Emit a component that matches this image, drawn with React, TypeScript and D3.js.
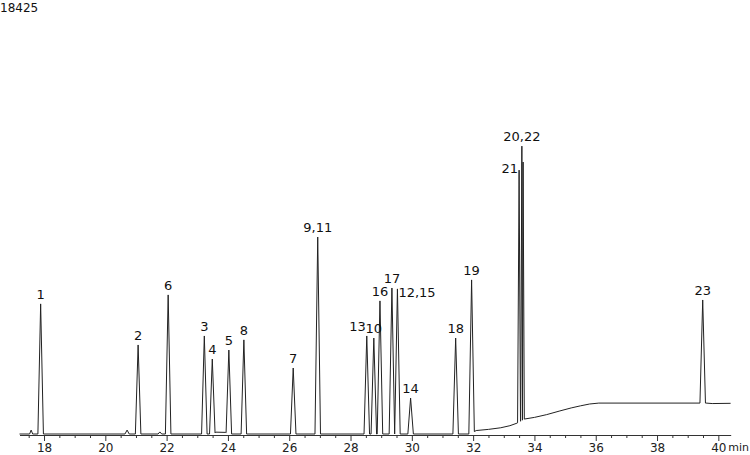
import { useRef, useEffect } from "react";
import * as d3 from "d3";

type Peak = { label: string; rt: number; top: number; w?: number };

// Peak table: retention time (min) and apex signal (counts)
const peaks: Peak[] = [
  { label: "1", rt: 17.89, top: 5640 },
  { label: "2", rt: 21.07, top: 3860 },
  { label: "6", rt: 22.05, top: 6030 },
  { label: "3", rt: 23.23, top: 4250 },
  { label: "4", rt: 23.49, top: 3250 },
  { label: "5", rt: 24.03, top: 3640 },
  { label: "8", rt: 24.52, top: 4080 },
  { label: "7", rt: 26.13, top: 2860 },
  { label: "9,11", rt: 26.93, top: 8540 },
  { label: "13", rt: 28.53, top: 4250 },
  { label: "10", rt: 28.76, top: 4160 },
  { label: "16", rt: 28.96, top: 5770 },
  { label: "17", rt: 29.35, top: 6330 },
  { label: "12,15", rt: 29.53, top: 6290 },
  { label: "14", rt: 29.96, top: 1560 },
  { label: "18", rt: 31.43, top: 4160 },
  { label: "19", rt: 31.95, top: 6680 },
  { label: "21", rt: 33.5, top: 11440, w: 0.05 },
  { label: "20,22", rt: 33.59, top: 12480, w: 0.04 },
  { label: "", rt: 33.63, top: 11790, w: 0.04 },
  { label: "23", rt: 39.49, top: 5810 },
];

// small unlabelled bumps
const bumps: Peak[] = [
  { label: "", rt: 17.58, top: 170, w: 0.05 },
  { label: "", rt: 20.71, top: 170, w: 0.07 },
  { label: "", rt: 21.78, top: 90, w: 0.06 },
];

// Baseline drift
const baseTime = [17.2, 23.55, 23.6, 23.92, 24.0, 31.9, 32.1, 32.5, 32.9, 33.2, 33.43, 33.68, 34.0, 34.4, 34.83, 35.2, 35.5, 35.8, 36.1, 39.6, 39.8, 40.4];
const baseSignal = [0, 0, 80, 70, 0, 0, 150, 200, 270, 360, 470, 650, 720, 840, 1000, 1130, 1220, 1300, 1340, 1340, 1320, 1330];

const majorTicks = [18, 20, 22, 24, 26, 28, 30, 32, 34, 36, 38, 40];
const yMax = 18425;

// label alignment for crowded peaks
const labelAnchor: Record<string, string> = { "21": "end", "13": "end", "12,15": "start" };

const width = 750;
const height = 455;
const font = "'DejaVu Sans', Verdana, sans-serif";

export default function App() {
  const ref = useRef<SVGSVGElement>(null);

  useEffect(() => {
    if (!ref.current) return;
    const svg = d3.select(ref.current);
    svg.selectAll("*").remove();

    const x = d3.scaleLinear().domain([17.2, 40.4]).range([19.5, 730.6]);
    const y = d3.scaleLinear().domain([0, yMax]).range([434, 9]);
    const base = d3.scaleLinear().domain(baseTime).range(baseSignal).clamp(true);

    // build trace points: baseline plus triangular peaks
    const all = [...peaks, ...bumps].sort((a, b) => a.rt - b.rt);
    const pts: [number, number][] = [];
    const windows: [number, number][] = [];
    all.forEach((p, i) => {
      const w = p.w ?? 0.09;
      const prev = all[i - 1];
      const next = all[i + 1];
      let l = p.rt - w;
      let r = p.rt + w;
      if (prev && l < (prev.rt + p.rt) / 2) l = (prev.rt + p.rt) / 2;
      if (next && r > (next.rt + p.rt) / 2) r = (next.rt + p.rt) / 2;
      windows.push([l, r]);
      pts.push([l, base(l)], [p.rt, p.top], [r, base(r)]);
    });
    baseTime.forEach((t, i) => {
      if (!windows.some(([l, r]) => t > l && t < r)) pts.push([t, baseSignal[i]]);
    });
    pts.sort((a, b) => a[0] - b[0]);

    const line = d3
      .line<[number, number]>()
      .x((d) => x(d[0]))
      .y((d) => y(d[1]));

    // axis
    const axisY = 435;
    const minor = d3.range(17.5, 40.01, 0.5).filter((t) => !majorTicks.includes(t));
    const gMinor = svg
      .append("g")
      .attr("transform", `translate(0, ${axisY})`)
      .call(d3.axisBottom(x).tickValues(minor).tickSize(3).tickSizeOuter(0).tickFormat(() => ""));
    gMinor.selectAll("line, path").attr("stroke", "#333");

    const gMajor = svg
      .append("g")
      .attr("transform", `translate(0, ${axisY})`)
      .call(d3.axisBottom(x).tickValues(majorTicks).tickSize(6).tickSizeOuter(0).tickPadding(2).tickFormat(d3.format("d")));
    gMajor.selectAll("line, path").attr("stroke", "#333");
    gMajor.selectAll("text").attr("font-family", font).attr("font-size", 12).attr("fill", "#222");

    svg
      .append("text")
      .attr("x", x(40) + 10)
      .attr("y", 451)
      .attr("font-family", font)
      .attr("font-size", 11)
      .attr("fill", "#222")
      .text("min");

    svg
      .append("path")
      .datum(pts)
      .attr("fill", "none")
      .attr("stroke", "#222")
      .attr("stroke-width", 1)
      .attr("d", line);

    // peak labels
    svg
      .append("g")
      .selectAll("text")
      .data(peaks.filter((p) => p.label))
      .join("text")
      .attr("x", (d) => x(d.rt) + (labelAnchor[d.label] === "end" ? -1 : labelAnchor[d.label] === "start" ? 1 : 0))
      .attr("y", (d) => (d.label === "21" ? y(d.top) + 3 : labelAnchor[d.label] === "start" ? y(d.top) + 8 : y(d.top) - 5))
      .attr("text-anchor", (d) => labelAnchor[d.label] ?? "middle")
      .attr("font-family", font)
      .attr("font-size", 13)
      .attr("fill", "#111")
      .text((d) => d.label);

    svg
      .append("text")
      .attr("x", 0)
      .attr("y", 12)
      .attr("font-family", font)
      .attr("font-size", 12)
      .attr("fill", "#111")
      .text(String(yMax));
  }, []);

  return (
    <svg
      ref={ref}
      width={width}
      height={height}
      style={{ position: "absolute", left: 0, top: 0, background: "#fff" }}
    />
  );
}
